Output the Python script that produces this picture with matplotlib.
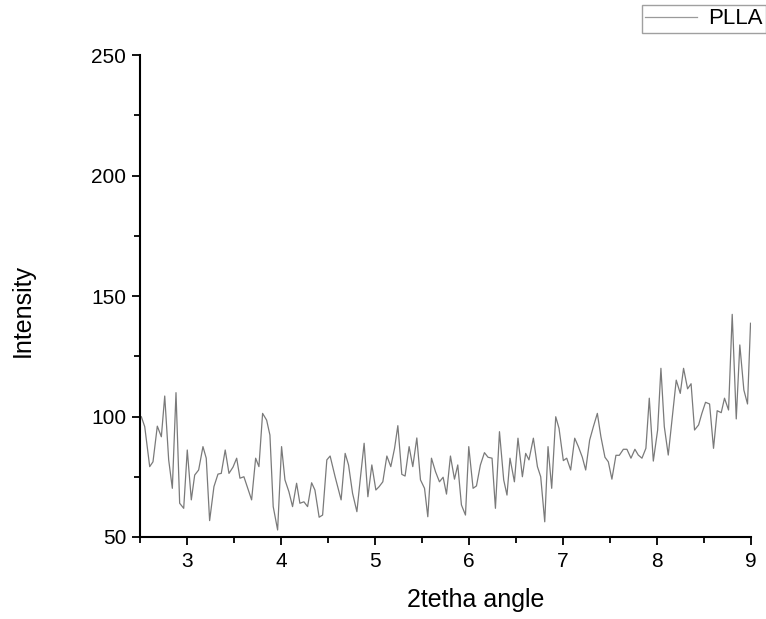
import numpy as np
import matplotlib
matplotlib.use("Agg")
from matplotlib import pyplot as plt
from matplotlib.ticker import MultipleLocator

plt.rcParams['font.family'] = ['Liberation Sans', 'DejaVu Sans']

# PLLA diffractogram, 2theta vs intensity
two_theta = [2.514, 2.550, 2.603, 2.638, 2.684, 2.727, 2.763, 2.805, 2.844, 2.883,
             2.922, 2.965, 3.003, 3.046, 3.082, 3.124, 3.170, 3.205, 3.241, 3.287,
             3.330, 3.365, 3.407, 3.447, 3.490, 3.529, 3.564, 3.606, 3.641, 3.688,
             3.731, 3.766, 3.805, 3.848, 3.883, 3.918, 3.965, 4.007, 4.043, 4.085,
             4.124, 4.167, 4.202, 4.245, 4.284, 4.327, 4.362, 4.407, 4.444, 4.489,
             4.524, 4.577, 4.641, 4.684, 4.720, 4.763, 4.809, 4.844, 4.886, 4.926,
             4.968, 5.011, 5.046, 5.085, 5.128, 5.170, 5.210, 5.245, 5.287, 5.322,
             5.365, 5.404, 5.447, 5.486, 5.529, 5.564, 5.603, 5.646, 5.688, 5.727,
             5.763, 5.805, 5.848, 5.883, 5.922, 5.965, 6.000, 6.046, 6.082, 6.124,
             6.167, 6.205, 6.248, 6.284, 6.327, 6.372, 6.407, 6.439, 6.486, 6.524,
             6.571, 6.606, 6.641, 6.688, 6.731, 6.766, 6.809, 6.844, 6.883, 6.926,
             6.961, 7.007, 7.043, 7.085, 7.128, 7.167, 7.209, 7.245, 7.287, 7.327,
             7.369, 7.407, 7.450, 7.486, 7.524, 7.567, 7.603, 7.646, 7.684, 7.727,
             7.769, 7.805, 7.844, 7.886, 7.922, 7.965, 8.011, 8.046, 8.082, 8.124,
             8.167, 8.209, 8.252, 8.287, 8.330, 8.367, 8.404, 8.447, 8.482, 8.521,
             8.564, 8.606, 8.645, 8.688, 8.723, 8.766, 8.805, 8.848, 8.886, 8.929,
             8.968, 9.000]
intensity = [99.9, 95.8, 79.2, 81.2, 96.0, 91.6, 108.5, 82.0, 70.2, 109.9,
             64.0, 61.9, 86.1, 65.4, 75.7, 77.8, 87.5, 82.7, 56.8, 70.9,
             76.1, 76.4, 86.1, 76.4, 79.0, 82.7, 74.4, 75.0, 70.9, 65.4,
             82.7, 79.2, 101.3, 98.5, 92.3, 62.6, 52.9, 87.5, 73.7, 68.8,
             62.6, 72.3, 64.0, 64.6, 62.6, 72.5, 69.5, 58.2, 59.1, 82.0,
             83.6, 75.0, 65.4, 84.7, 79.9, 68.1, 60.5, 73.7, 88.9, 66.7,
             79.9, 69.5, 70.9, 72.9, 83.6, 79.2, 86.8, 96.2, 76.0, 75.3,
             87.5, 79.2, 91.1, 73.7, 70.2, 58.4, 82.7, 77.1, 72.9, 74.8,
             67.8, 83.6, 74.0, 79.9, 63.3, 59.1, 87.5, 70.2, 71.2, 79.9,
             85.0, 83.1, 82.7, 61.9, 93.7, 73.7, 67.4, 82.7, 72.9, 91.0,
             75.0, 84.7, 82.0, 91.0, 79.2, 75.0, 56.3, 87.5, 70.2, 99.9,
             95.1, 81.7, 82.7, 77.8, 91.0, 87.5, 83.1, 77.8, 90.2, 95.8,
             101.3, 91.6, 83.1, 81.2, 74.0, 83.9, 83.9, 86.4, 86.4, 82.7,
             86.4, 84.0, 82.7, 86.8, 107.6, 81.5, 94.4, 120.0, 95.8, 84.0,
             99.9, 115.1, 109.6, 120.0, 111.5, 113.6, 94.4, 96.5, 101.3, 105.9,
             105.2, 86.8, 102.4, 101.6, 107.6, 102.7, 142.4, 99.0, 129.7, 111.0,
             105.2, 138.7]

fig = plt.figure(figsize=(7.66, 6.19), dpi=100)
ax = fig.add_axes([0.1828, 0.1325, 0.797, 0.7785])

ax.plot(two_theta, intensity, color='#7a7a7a', linewidth=0.9, label='PLLA')

ax.set_xlim(2.5, 9)
ax.set_ylim(50, 250)
ax.xaxis.set_major_locator(MultipleLocator(1))
ax.xaxis.set_minor_locator(MultipleLocator(0.5))
ax.yaxis.set_major_locator(MultipleLocator(50))
ax.yaxis.set_minor_locator(MultipleLocator(25))

for side in ['top', 'right']:
    ax.spines[side].set_visible(False)
for side in ['left', 'bottom']:
    ax.spines[side].set_linewidth(1.5)

ax.tick_params(which='major', direction='out', length=6, width=1.3, labelsize=15)
ax.tick_params(axis='x', which='major', pad=5)
ax.tick_params(axis='y', which='major', pad=4)
ax.tick_params(which='minor', direction='out', length=4, width=1.3)

ax.set_xlabel('2tetha angle', fontsize=18)
ax.set_ylabel('Intensity', fontsize=18)
ax.xaxis.set_label_coords(0.55, -0.105)
ax.yaxis.set_label_coords(-0.172, 0.47)

leg = fig.legend(loc='upper right', bbox_to_anchor=(1.0, 0.992), fontsize=16,
                 frameon=True, fancybox=False, handlelength=2.35, handletextpad=0.5,
                 borderpad=0.15, borderaxespad=0)
leg.get_frame().set_edgecolor('#888888')
leg.get_frame().set_linewidth(1.0)
leg.get_lines()[0].set_color('#9a9a9a')

fig.savefig('out.png', dpi=100)
